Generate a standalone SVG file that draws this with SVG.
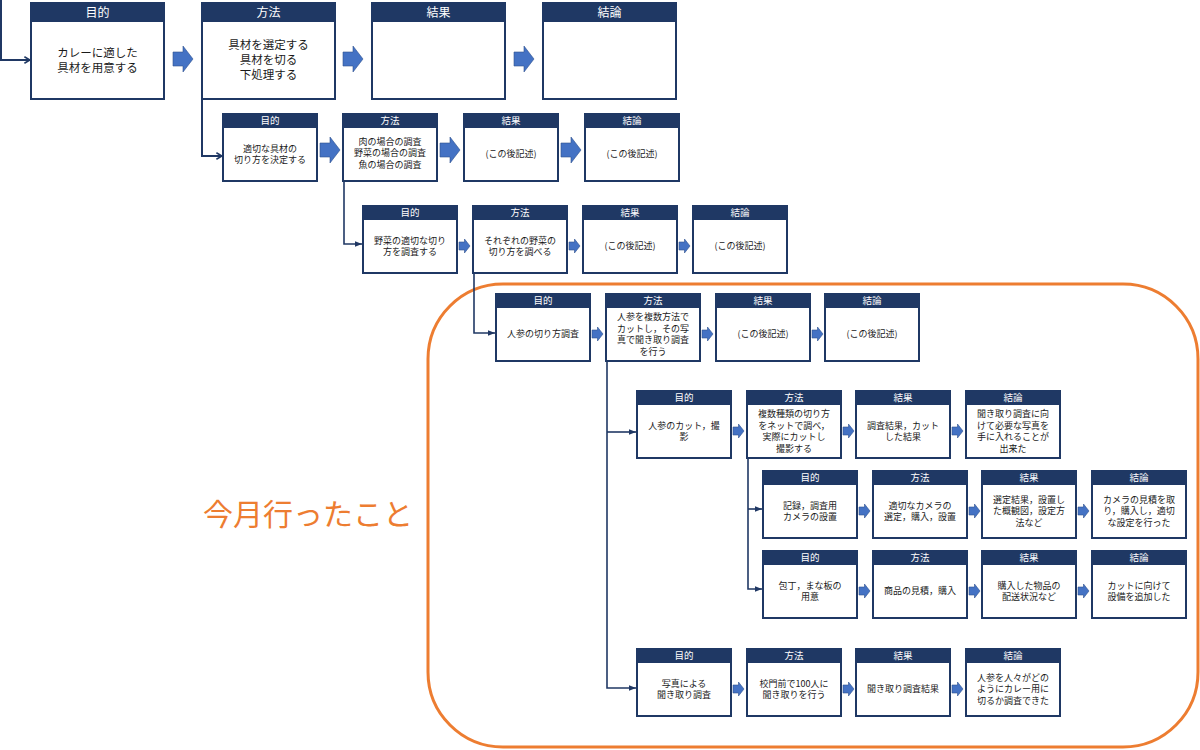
<svg xmlns="http://www.w3.org/2000/svg" xmlns:xlink="http://www.w3.org/1999/xlink" width="1200" height="750" viewBox="0 0 1200 750">
<style>
.box{fill:#fff;stroke:#1F3864;stroke-width:2}
.hdr{fill:#1F3864;stroke:#1F3864;stroke-width:2}
.ht{fill:#fff;font-family:"Noto Sans CJK JP","Noto Sans CJK SC",sans-serif;font-size:9.5px;text-anchor:middle}
.htL{fill:#fff;font-family:"Noto Sans CJK JP","Noto Sans CJK SC",sans-serif;font-size:12px;text-anchor:middle}
.bt{fill:#1a1a1a;font-family:"Noto Sans CJK JP","Noto Sans CJK SC",sans-serif;font-size:9px;text-anchor:middle}
.btL{fill:#1a1a1a;font-family:"Noto Sans CJK JP","Noto Sans CJK SC",sans-serif;font-size:11.5px;text-anchor:middle}
.blk{fill:#4472C4;stroke:#2F528F;stroke-width:0.6}
.con{fill:none;stroke:#203864;stroke-width:1.6}
.conL{fill:none;stroke:#203864;stroke-width:2}
</style>
<defs>
<marker id="ahL" viewBox="0 0 10 10" refX="9" refY="5" markerWidth="8" markerHeight="8" orient="auto" markerUnits="userSpaceOnUse"><path d="M2,1 L9,5 L2,9" fill="none" stroke="#203864" stroke-width="2"/></marker>
<marker id="ah" viewBox="0 0 10 10" refX="10" refY="5" markerWidth="7" markerHeight="7" orient="auto" markerUnits="userSpaceOnUse"><path d="M0,1 L10,5 L0,9 z" fill="#203864"/></marker>
<path id="bigArr" d="M0,-7 H10 V-13 L20,0 L10,13 V7 H0 Z"/>
<path id="smArr" d="M0,-4 H5.5 V-7 L11,0 L5.5,7 V4 H0 Z"/>
</defs>

<!-- orange region -->
<rect x="428" y="284" width="770" height="463" rx="75" ry="75" fill="none" stroke="#ED7D31" stroke-width="3"/>
<text x="203" y="525" font-family="Noto Sans CJK JP, Noto Sans CJK SC, sans-serif" font-size="30" fill="#ED7D31">今月行ったこと</text>

<g id="connectors">
<path class="conL" d="M1,0 V60 H30" marker-end="url(#ahL)"/>
<path class="conL" d="M202,99 V156 H222" marker-end="url(#ahL)"/>
<path class="con" d="M344,181 V244 H362" marker-end="url(#ah)"/>
<path class="con" d="M474,273 V333 H495" marker-end="url(#ah)"/>
<path class="con" d="M607,361 V688 H636" marker-end="url(#ah)"/>
<path class="con" d="M607,432 H636" marker-end="url(#ah)"/>
<path class="con" d="M748,458 V589 H762" marker-end="url(#ah)"/>
<path class="con" d="M748,509 H762" marker-end="url(#ah)"/>
</g>

<g id="block-arrows">
<use xlink:href="#bigArr" href="#bigArr" class="blk" transform="translate(173,59)"/>
<use xlink:href="#bigArr" href="#bigArr" class="blk" transform="translate(343,59)"/>
<use xlink:href="#bigArr" href="#bigArr" class="blk" transform="translate(514,59)"/>
<use xlink:href="#bigArr" href="#bigArr" class="blk" transform="translate(320,150)"/>
<use xlink:href="#bigArr" href="#bigArr" class="blk" transform="translate(440,150)"/>
<use xlink:href="#bigArr" href="#bigArr" class="blk" transform="translate(561,150)"/>
<use xlink:href="#smArr" href="#smArr" class="blk" transform="translate(459,246)"/>
<use xlink:href="#smArr" href="#smArr" class="blk" transform="translate(569,246)"/>
<use xlink:href="#smArr" href="#smArr" class="blk" transform="translate(679,246)"/>
<use xlink:href="#smArr" href="#smArr" class="blk" transform="translate(592,334)"/>
<use xlink:href="#smArr" href="#smArr" class="blk" transform="translate(702,334)"/>
<use xlink:href="#smArr" href="#smArr" class="blk" transform="translate(812,334)"/>
<use xlink:href="#smArr" href="#smArr" class="blk" transform="translate(733,431)"/>
<use xlink:href="#smArr" href="#smArr" class="blk" transform="translate(843,431)"/>
<use xlink:href="#smArr" href="#smArr" class="blk" transform="translate(952,431)"/>
<use xlink:href="#smArr" href="#smArr" class="blk" transform="translate(859,511)"/>
<use xlink:href="#smArr" href="#smArr" class="blk" transform="translate(969,511)"/>
<use xlink:href="#smArr" href="#smArr" class="blk" transform="translate(1078,511)"/>
<use xlink:href="#smArr" href="#smArr" class="blk" transform="translate(859,591)"/>
<use xlink:href="#smArr" href="#smArr" class="blk" transform="translate(969,591)"/>
<use xlink:href="#smArr" href="#smArr" class="blk" transform="translate(1078,591)"/>
<use xlink:href="#smArr" href="#smArr" class="blk" transform="translate(733,689)"/>
<use xlink:href="#smArr" href="#smArr" class="blk" transform="translate(843,689)"/>
<use xlink:href="#smArr" href="#smArr" class="blk" transform="translate(952,689)"/>
</g>

<!-- Row 1 -->
<g id="r1-purpose"><rect class="box" x="31" y="3" width="133" height="96"/><rect class="hdr" x="31" y="3" width="133" height="18"/><text class="htL" x="97.5" y="16.5">目的</text><text class="btL" x="97.5" y="56.6">カレーに適した</text><text class="btL" x="97.5" y="71.6">具材を用意する</text></g>
<g id="r1-method"><rect class="box" x="202" y="3" width="133" height="96"/><rect class="hdr" x="202" y="3" width="133" height="18"/><text class="htL" x="268.5" y="16.5">方法</text><text class="btL" x="268.5" y="49.1">具材を選定する</text><text class="btL" x="268.5" y="64.1">具材を切る</text><text class="btL" x="268.5" y="79.1">下処理する</text></g>
<g id="r1-result"><rect class="box" x="372" y="3" width="133" height="96"/><rect class="hdr" x="372" y="3" width="133" height="18"/><text class="htL" x="438.5" y="16.5">結果</text></g>
<g id="r1-conclusion"><rect class="box" x="543" y="3" width="133" height="96"/><rect class="hdr" x="543" y="3" width="133" height="18"/><text class="htL" x="609.5" y="16.5">結論</text></g>

<!-- Row 2 -->
<g id="r2-purpose"><rect class="box" x="223" y="114" width="94" height="67"/><rect class="hdr" x="223" y="114" width="94" height="13"/><text class="ht" x="270" y="124">目的</text><text class="bt" x="270" y="151.5">適切な具材の</text><text class="bt" x="270" y="163">切り方を決定する</text></g>
<g id="r2-method"><rect class="box" x="343" y="114" width="94" height="67"/><rect class="hdr" x="343" y="114" width="94" height="13"/><text class="ht" x="390" y="124">方法</text><text class="bt" x="390" y="144.5">肉の場合の調査</text><text class="bt" x="390" y="156">野菜の場合の調査</text><text class="bt" x="390" y="167.5">魚の場合の調査</text></g>
<g id="r2-result"><rect class="box" x="464" y="114" width="94" height="67"/><rect class="hdr" x="464" y="114" width="94" height="13"/><text class="ht" x="511" y="124">結果</text><text class="bt" x="511" y="157.2">(この後記述)</text></g>
<g id="r2-conclusion"><rect class="box" x="585" y="114" width="94" height="67"/><rect class="hdr" x="585" y="114" width="94" height="13"/><text class="ht" x="632" y="124">結論</text><text class="bt" x="632" y="157.2">(この後記述)</text></g>

<!-- Row 3 -->
<g id="r3-purpose"><rect class="box" x="363" y="206" width="94" height="67"/><rect class="hdr" x="363" y="206" width="94" height="13"/><text class="ht" x="410" y="216">目的</text><text class="bt" x="410" y="243.5">野菜の適切な切り</text><text class="bt" x="410" y="255">方を調査する</text></g>
<g id="r3-method"><rect class="box" x="473" y="206" width="94" height="67"/><rect class="hdr" x="473" y="206" width="94" height="13"/><text class="ht" x="520" y="216">方法</text><text class="bt" x="520" y="243.5">それぞれの野菜の</text><text class="bt" x="520" y="255">切り方を調べる</text></g>
<g id="r3-result"><rect class="box" x="583" y="206" width="94" height="67"/><rect class="hdr" x="583" y="206" width="94" height="13"/><text class="ht" x="630" y="216">結果</text><text class="bt" x="630" y="249.2">(この後記述)</text></g>
<g id="r3-conclusion"><rect class="box" x="693" y="206" width="94" height="67"/><rect class="hdr" x="693" y="206" width="94" height="13"/><text class="ht" x="740" y="216">結論</text><text class="bt" x="740" y="249.2">(この後記述)</text></g>

<!-- Row 4 -->
<g id="r4-purpose"><rect class="box" x="496" y="294" width="94" height="67"/><rect class="hdr" x="496" y="294" width="94" height="13"/><text class="ht" x="543" y="304">目的</text><text class="bt" x="543" y="337.2">人参の切り方調査</text></g>
<g id="r4-method"><rect class="box" x="606" y="294" width="94" height="67"/><rect class="hdr" x="606" y="294" width="94" height="13"/><text class="ht" x="653" y="304">方法</text><text class="bt" x="653" y="320">人参を複数方法で</text><text class="bt" x="653" y="331.5">カットし，その写</text><text class="bt" x="653" y="343">真で聞き取り調査</text><text class="bt" x="653" y="354.5">を行う</text></g>
<g id="r4-result"><rect class="box" x="716" y="294" width="94" height="67"/><rect class="hdr" x="716" y="294" width="94" height="13"/><text class="ht" x="763" y="304">結果</text><text class="bt" x="763" y="337.2">(この後記述)</text></g>
<g id="r4-conclusion"><rect class="box" x="825" y="294" width="94" height="67"/><rect class="hdr" x="825" y="294" width="94" height="13"/><text class="ht" x="872" y="304">結論</text><text class="bt" x="872" y="337.2">(この後記述)</text></g>

<!-- Row 5a -->
<g id="r5a-purpose"><rect class="box" x="637" y="391" width="94" height="67"/><rect class="hdr" x="637" y="391" width="94" height="13"/><text class="ht" x="684" y="401">目的</text><text class="bt" x="684" y="428.5">人参のカット，撮</text><text class="bt" x="684" y="440">影</text></g>
<g id="r5a-method"><rect class="box" x="747" y="391" width="94" height="67"/><rect class="hdr" x="747" y="391" width="94" height="13"/><text class="ht" x="794" y="401">方法</text><text class="bt" x="794" y="417">複数種類の切り方</text><text class="bt" x="794" y="428.5">をネットで調べ，</text><text class="bt" x="794" y="440">実際にカットし</text><text class="bt" x="794" y="451.5">撮影する</text></g>
<g id="r5a-result"><rect class="box" x="856" y="391" width="94" height="67"/><rect class="hdr" x="856" y="391" width="94" height="13"/><text class="ht" x="903" y="401">結果</text><text class="bt" x="903" y="428.5">調査結果，カット</text><text class="bt" x="903" y="440">した結果</text></g>
<g id="r5a-conclusion"><rect class="box" x="966" y="391" width="94" height="67"/><rect class="hdr" x="966" y="391" width="94" height="13"/><text class="ht" x="1013" y="401">結論</text><text class="bt" x="1013" y="417">聞き取り調査に向</text><text class="bt" x="1013" y="428.5">けて必要な写真を</text><text class="bt" x="1013" y="440">手に入れることが</text><text class="bt" x="1013" y="451.5">出来た</text></g>

<!-- Row 6a -->
<g id="r6a-purpose"><rect class="box" x="763" y="471" width="94" height="67"/><rect class="hdr" x="763" y="471" width="94" height="13"/><text class="ht" x="810" y="481">目的</text><text class="bt" x="810" y="508.5">記録，調査用</text><text class="bt" x="810" y="520">カメラの設置</text></g>
<g id="r6a-method"><rect class="box" x="873" y="471" width="94" height="67"/><rect class="hdr" x="873" y="471" width="94" height="13"/><text class="ht" x="920" y="481">方法</text><text class="bt" x="920" y="508.5">適切なカメラの</text><text class="bt" x="920" y="520">選定，購入，設置</text></g>
<g id="r6a-result"><rect class="box" x="982" y="471" width="94" height="67"/><rect class="hdr" x="982" y="471" width="94" height="13"/><text class="ht" x="1029" y="481">結果</text><text class="bt" x="1029" y="502.7">選定結果，設置し</text><text class="bt" x="1029" y="514.2">た概観図，設定方</text><text class="bt" x="1029" y="525.7">法など</text></g>
<g id="r6a-conclusion"><rect class="box" x="1092" y="471" width="94" height="67"/><rect class="hdr" x="1092" y="471" width="94" height="13"/><text class="ht" x="1139" y="481">結論</text><text class="bt" x="1139" y="502.7">カメラの見積を取</text><text class="bt" x="1139" y="514.2">り，購入し，適切</text><text class="bt" x="1139" y="525.7">な設定を行った</text></g>

<!-- Row 6b -->
<g id="r6b-purpose"><rect class="box" x="763" y="551" width="94" height="67"/><rect class="hdr" x="763" y="551" width="94" height="13"/><text class="ht" x="810" y="561">目的</text><text class="bt" x="810" y="588.5">包丁，まな板の</text><text class="bt" x="810" y="600">用意</text></g>
<g id="r6b-method"><rect class="box" x="873" y="551" width="94" height="67"/><rect class="hdr" x="873" y="551" width="94" height="13"/><text class="ht" x="920" y="561">方法</text><text class="bt" x="920" y="594.2">商品の見積，購入</text></g>
<g id="r6b-result"><rect class="box" x="982" y="551" width="94" height="67"/><rect class="hdr" x="982" y="551" width="94" height="13"/><text class="ht" x="1029" y="561">結果</text><text class="bt" x="1029" y="588.5">購入した物品の</text><text class="bt" x="1029" y="600">配送状況など</text></g>
<g id="r6b-conclusion"><rect class="box" x="1092" y="551" width="94" height="67"/><rect class="hdr" x="1092" y="551" width="94" height="13"/><text class="ht" x="1139" y="561">結論</text><text class="bt" x="1139" y="588.5">カットに向けて</text><text class="bt" x="1139" y="600">設備を追加した</text></g>

<!-- Row 5b -->
<g id="r5b-purpose"><rect class="box" x="637" y="649" width="94" height="67"/><rect class="hdr" x="637" y="649" width="94" height="13"/><text class="ht" x="684" y="659">目的</text><text class="bt" x="684" y="686.5">写真による</text><text class="bt" x="684" y="698">聞き取り調査</text></g>
<g id="r5b-method"><rect class="box" x="747" y="649" width="94" height="67"/><rect class="hdr" x="747" y="649" width="94" height="13"/><text class="ht" x="794" y="659">方法</text><text class="bt" x="794" y="686.5">校門前で100人に</text><text class="bt" x="794" y="698">聞き取りを行う</text></g>
<g id="r5b-result"><rect class="box" x="856" y="649" width="94" height="67"/><rect class="hdr" x="856" y="649" width="94" height="13"/><text class="ht" x="903" y="659">結果</text><text class="bt" x="903" y="692.2">聞き取り調査結果</text></g>
<g id="r5b-conclusion"><rect class="box" x="966" y="649" width="94" height="67"/><rect class="hdr" x="966" y="649" width="94" height="13"/><text class="ht" x="1013" y="659">結論</text><text class="bt" x="1013" y="680.7">人参を人々がどの</text><text class="bt" x="1013" y="692.2">ようにカレー用に</text><text class="bt" x="1013" y="703.7">切るか調査できた</text></g>
</svg>
